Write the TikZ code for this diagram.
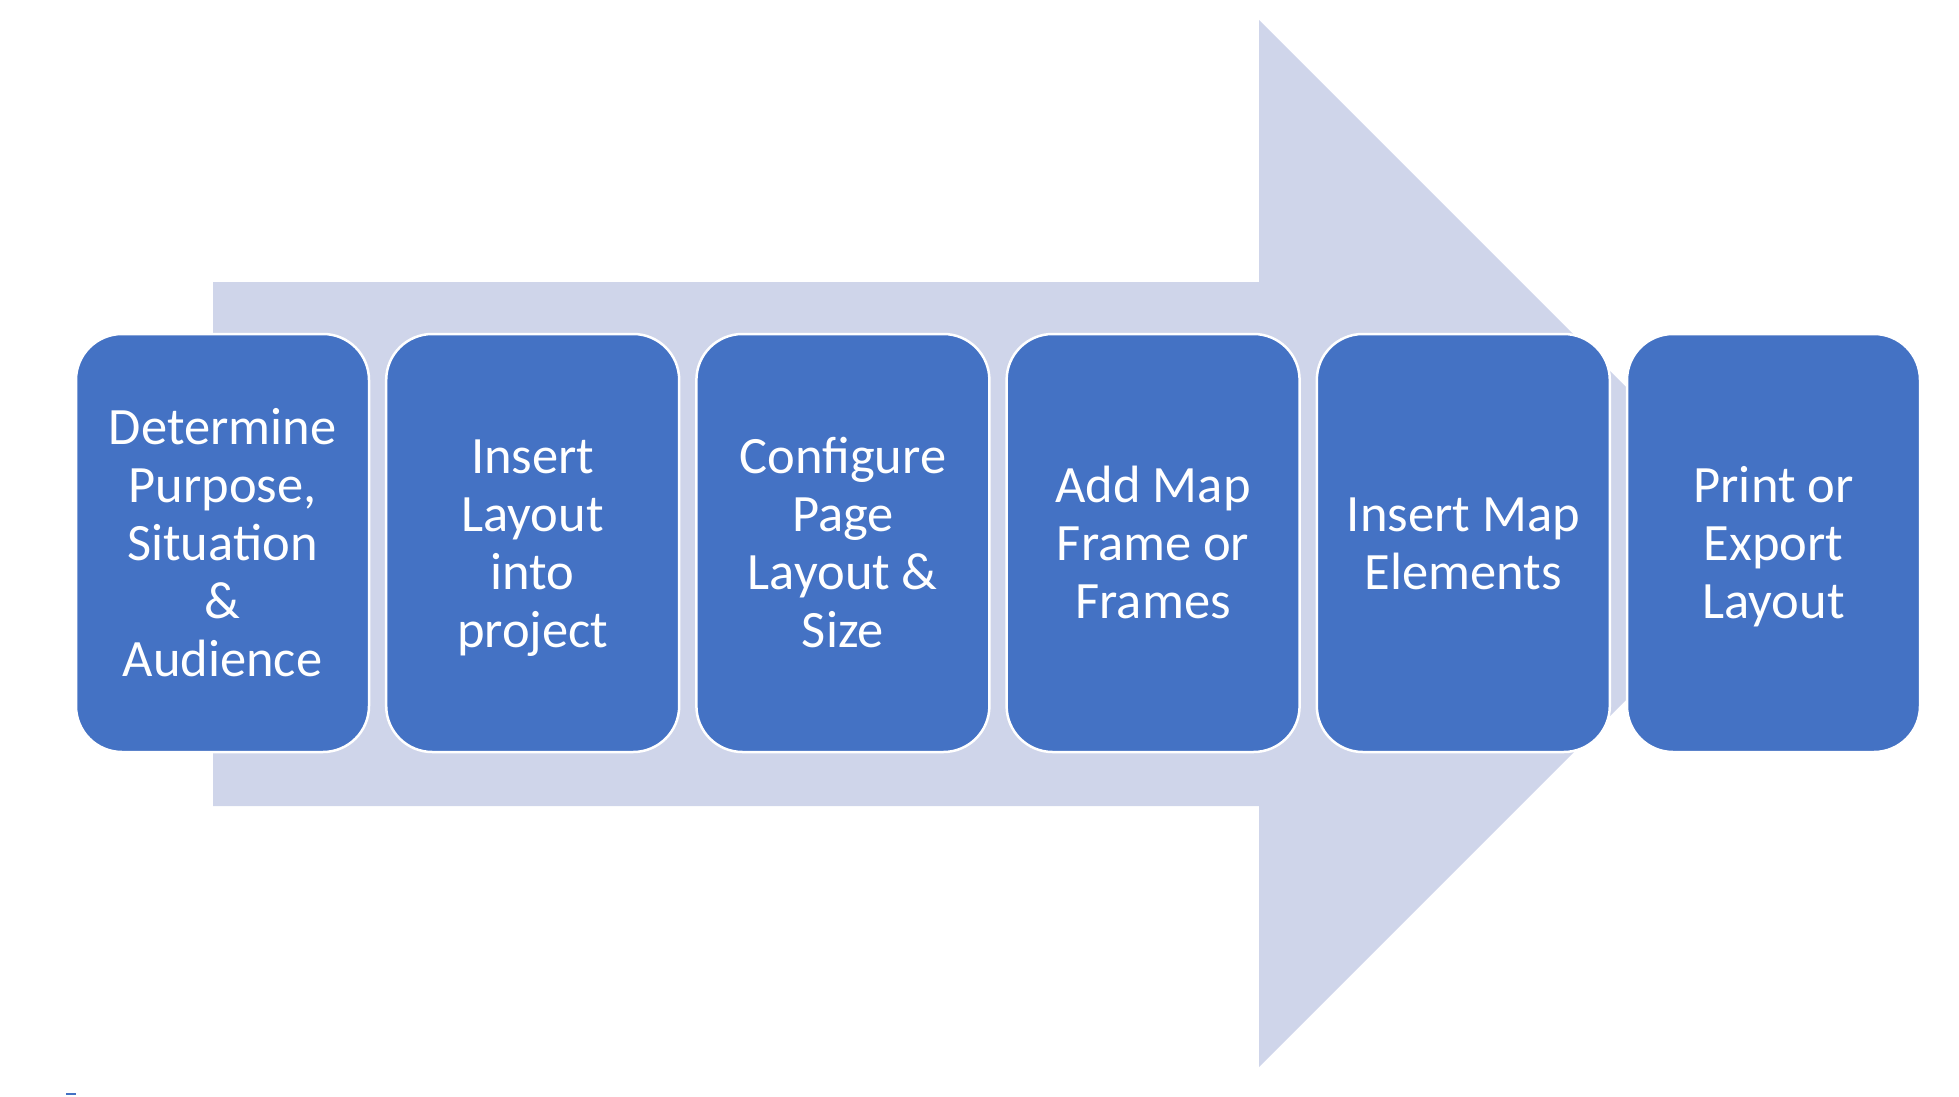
\documentclass[tikz,border=0pt]{standalone}
\usepackage{fontspec}
\setmainfont{Carlito}
\definecolor{boxblue}{HTML}{4472C4}
\definecolor{arrowfill}{HTML}{CFD5EA}
\newcommand{\lnstrut}{\rule[-11.4pt]{0pt}{58pt}}
\tikzset{
  stepbox/.style={rectangle, rounded corners=46pt, fill=boxblue, draw=white, line width=2.5pt,
    minimum width=293pt, minimum height=418pt, inner sep=0pt, align=center, text=white,
    font=\fontsize{52.5}{58}\selectfont}
}
\begin{document}
\begin{tikzpicture}[x=1pt,y=-1pt]
\useasboundingbox (0,0) rectangle (1959,1097);
\fill[arrowfill] (213,282) -- (1259,282) -- (1259,20) -- (1782.5,543.5) -- (1259,1067) -- (1259,806) -- (213,806) -- cycle;
\node[stepbox] (s1) at (222.5,543) {\lnstrut Determine\\\lnstrut Purpose,\\\lnstrut Situation\\\lnstrut\&\\\lnstrut Audience};
\node[stepbox] (s2) at (532.7,543) {\lnstrut Insert\\\lnstrut Layout\\\lnstrut into\\\lnstrut project};
\node[stepbox] (s3) at (842.9,543) {\lnstrut Configure\\\lnstrut Page\\\lnstrut Layout \&\\\lnstrut Size};
\node[stepbox] (s4) at (1153.1,543) {\lnstrut Add Map\\\lnstrut Frame or\\\lnstrut Frames};
\node[stepbox] (s5) at (1463.3,543) {\lnstrut Insert Map\\\lnstrut Elements};
\node[stepbox] (s6) at (1773.5,543) {\lnstrut Print or\\\lnstrut Export\\\lnstrut Layout};
\draw[boxblue, line width=1.2pt] (66,1094) -- (76,1094);
\end{tikzpicture}
\end{document}
